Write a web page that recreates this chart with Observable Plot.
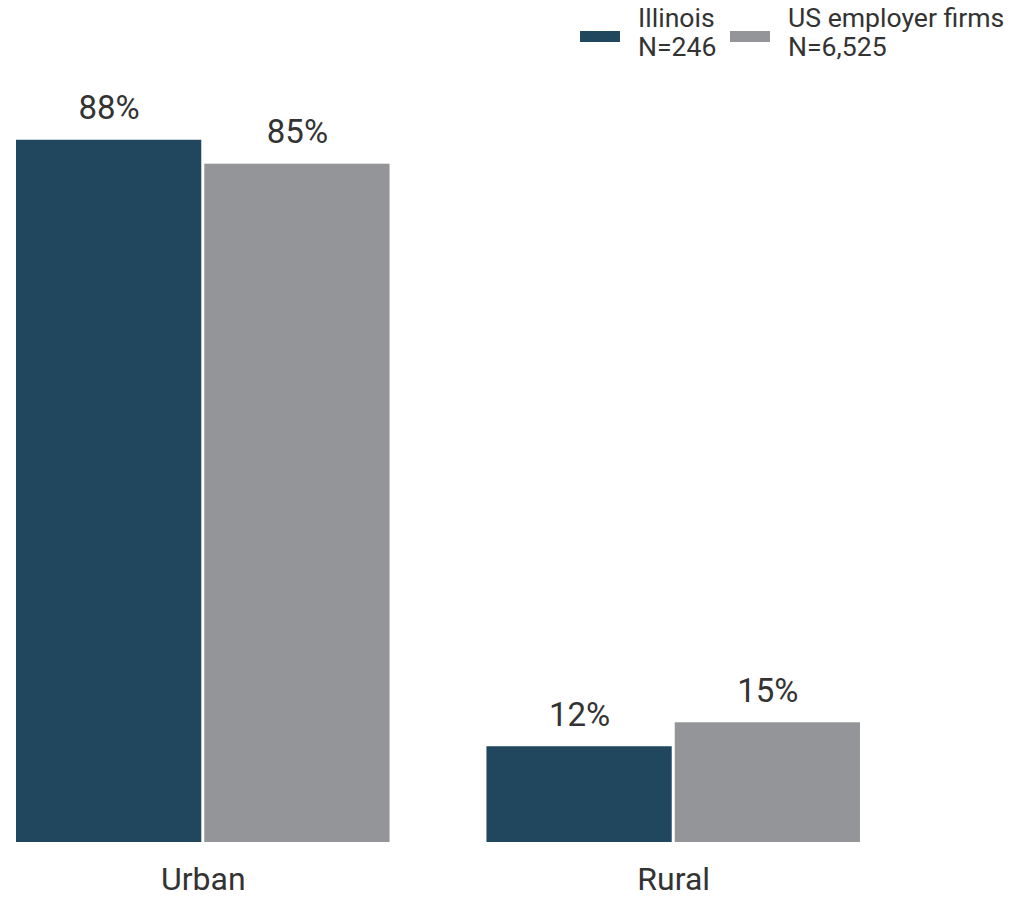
<!DOCTYPE html>
<html>
<head>
<meta charset="utf-8">
<script src="https://cdn.jsdelivr.net/npm/d3@7"></script>
<script src="https://cdn.jsdelivr.net/npm/@observablehq/plot@0.6"></script>
<style>
  html, body { margin: 0; padding: 0; background: #fff; }
  body { width: 1011px; height: 898px; overflow: hidden; font-family: Roboto, "Noto Sans", sans-serif; color: #333; }
  #legend { position: relative; height: 44px; width: 1011px; overflow: visible; z-index: 2; }
  .sw { position: absolute; width: 40px; height: 11px; }
  .lt { position: absolute; font-size: 26.6px; line-height: 29px; white-space: nowrap; color: #333; }
  #chart svg { display: block; overflow: visible; }
</style>
</head>
<body>
<div id="legend"></div>
<div id="chart"></div>
<script>
const categories = ["Urban", "Rural"];
const series = ["Illinois", "US employer firms"];
const illinoisValues = [88, 12];
const usValues = [85, 15];
const legendN = ["N=246", "N=6,525"];
const colors = ["#20475e", "#939598"];

const data = categories.flatMap((c, i) => [
  {category: c, series: series[0], value: illinoisValues[i]},
  {category: c, series: series[1], value: usValues[i]}
]);

// Legend
const legend = document.getElementById("legend");
const legendPos = [{sw: 580, tx: 638}, {sw: 730, tx: 788}];
series.forEach((s, i) => {
  const sw = document.createElement("div");
  sw.className = "sw";
  sw.style.left = legendPos[i].sw + "px";
  sw.style.top = "31px";
  sw.style.background = colors[i];
  legend.appendChild(sw);
  const t = document.createElement("div");
  t.className = "lt";
  t.style.left = legendPos[i].tx + "px";
  t.style.top = "3px";
  t.innerHTML = s + "<br>" + legendN[i];
  legend.appendChild(t);
});

const chart = Plot.plot({
  width: 1011,
  height: 854,
  marginTop: 0,
  marginBottom: 56,
  marginLeft: 16,
  marginRight: 151,
  style: {fontFamily: "Roboto, 'Noto Sans', sans-serif", color: "#333", background: "transparent"},
  fx: {domain: categories, paddingInner: 0.206, paddingOuter: 0, round: false, label: null, axis: null},
  x: {domain: series, paddingInner: 0.016, paddingOuter: 0, round: false, axis: null},
  y: {domain: [0, 100], axis: null},
  color: {domain: series, range: colors},
  marks: [
    Plot.barY(data, {fx: "category", x: "series", y: "value", fill: "series"}),
    Plot.text(data, {fx: "category", x: "series", y: "value", text: d => d.value + "%", lineAnchor: "bottom", dy: -21, fontSize: 33, fill: "#333"}),
    Plot.axisFx({anchor: "bottom", tickSize: 0, tickPadding: 25, fontSize: 32, label: null, color: "#333"})
  ]
});
document.getElementById("chart").appendChild(chart);
</script>
</body>
</html>
